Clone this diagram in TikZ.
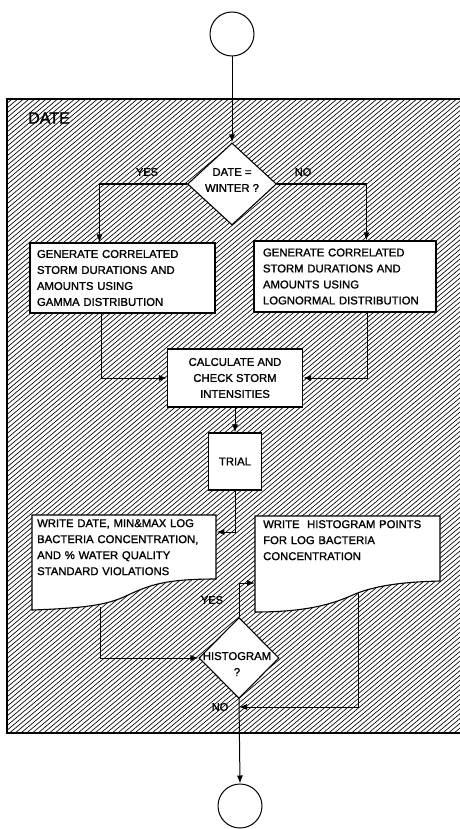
\documentclass[tikz,border=0pt]{standalone}
\usepackage{fontspec}
\setmainfont{Liberation Sans}[FakeBold=1.3]
\usetikzlibrary{shapes.geometric,arrows.meta,calc}
\pgfdeclarelayer{hatch}
\pgfdeclarelayer{conn}
\pgfsetlayers{hatch,conn,main}
\begin{document}
\begin{tikzpicture}[x=1pt,y=-1pt,
  box/.style={draw,line width=1.1pt,fill=white,inner sep=0pt},
  txt/.style={font=\fontsize{11.3}{16}\selectfont},
  arr/.style={-{Latex[length=8pt,width=6pt]}, line width=1pt},
  dia/.style={diamond,draw,line width=1.1pt,fill=white,inner sep=0pt},
  term/.style={circle,draw,line width=1pt,minimum size=44pt,inner sep=0pt},
  lab/.style={font=\fontsize{11}{13}\selectfont, inner sep=0pt},
  doc/.style={draw,line width=1.1pt,fill=white}]

\useasboundingbox (0,0) rectangle (459,829);
\clip (0,0) rectangle (459,829);

% hatched region
\begin{pgfonlayer}{hatch}
\begin{scope}
\clip (7,99) rectangle (470,733);
\foreach \i in {-760,-754.3,...,470} \draw[line width=0.65pt] (\i,733) -- ++(755,-634);
\end{scope}
\draw[line width=1.3pt] (7,99) rectangle (470,733);
\end{pgfonlayer}

% terminals
\node[term] (start) at (232,34) {};
\node[term] (stop) at (240,806) {};

\node[font=\fontsize{16}{18}\selectfont, inner sep=0pt] (datelbl) at (49,118) {DATE};

% decision 1
\node[dia, minimum width=89pt, minimum height=82pt] (d1) at (232,184) {};
\node[txt, align=center, inner sep=0pt] (d1t) at (232,180) {DATE =\\WINTER ?};
\node[lab] (yes1) at (147,172) {YES};
\node[lab] (no1) at (303,172) {NO};

% generate boxes
\node[box, txt, align=left, minimum width=185pt, minimum height=70pt, inner xsep=7pt, text width=171pt] (g1) at (122.5,278)
  {GENERATE CORRELATED\\STORM DURATIONS AND\\AMOUNTS USING\\GAMMA DISTRIBUTION};
\node[box, txt, align=left, minimum width=182pt, minimum height=71pt, inner xsep=9pt, text width=164pt] (g2) at (345,276.5)
  {GENERATE CORRELATED\\STORM DURATIONS AND\\AMOUNTS USING\\LOGNORMAL DISTRIBUTION};

% calculate
\node[box, txt, align=center, minimum width=135pt, minimum height=58pt] (calc) at (235,378)
  {CALCULATE AND\\CHECK STORM\\INTENSITIES};
\node[box, txt, minimum width=53pt, minimum height=57pt] (trial) at (235,461.5) {TRIAL};

% document outputs
\path[doc] (32,515) -- (216,515) -- (216,579)
   .. controls (165,579) and (150,585) .. (128,595)
   .. controls (110,604) and (90,608) .. (32,610) -- cycle;
\node[txt, align=left, anchor=north west, minimum width=184pt, minimum height=64pt, inner ysep=0pt, inner xsep=5pt, text width=174pt] (wd) at (32,515)
  {WRITE DATE, MIN\&MAX LOG\\BACTERIA CONCENTRATION,\\AND \% WATER QUALITY\\STANDARD VIOLATIONS};

\path[doc] (255,516) -- (440,516) -- (440,581)
   .. controls (400,582) and (375,586) .. (355,594)
   .. controls (335,603) and (310,612) .. (255,612) -- cycle;
\node[txt, align=left, anchor=north west, minimum width=185pt, minimum height=48pt, inner ysep=0pt, inner xsep=8pt, text width=169pt] (wh) at (255,516)
  {WRITE \ HISTOGRAM POINTS\\FOR LOG BACTERIA\\CONCENTRATION};

% decision 2
\node[dia, minimum width=80pt, minimum height=81pt] (d2) at (239,658) {};
\node[txt, align=center, inner sep=0pt] (d2t) at (237,664) {HISTOGRAM\\?};
\node[lab] (yes2) at (212,600) {YES};
\node[lab] (no2) at (220,707) {NO};

\coordinate (wdo) at (100,607);
\coordinate (who) at (358,594);
\coordinate (noj) at (239,707);

\begin{pgfonlayer}{conn}
\draw[arr] (start) -- (d1.north);
\draw[arr] (d1.west) -| ($(g1.north west)+(70,0)$);
\draw[arr] (d1.east) -| ($(g2.north west)+(113,0)$);
\draw[arr] ($(g1.south west)+(72,0)$) |- (calc.west);
\draw[arr] ($(g2.south west)+(114,0)$) |- (calc.east);
\draw[arr] (calc.south) -- (trial.north);
\draw[arr] (trial.south) |- ($(wd.north east)+(0,17)$);
\draw[arr] (wdo) |- (d2.west);
\draw[arr] (d2.north) |- ($(wh.north west)+(0,67)$);
\draw[arr] (who) |- (noj);
\draw[arr] (d2.south) -- (stop.north);
\end{pgfonlayer}
\end{tikzpicture}
\end{document}
